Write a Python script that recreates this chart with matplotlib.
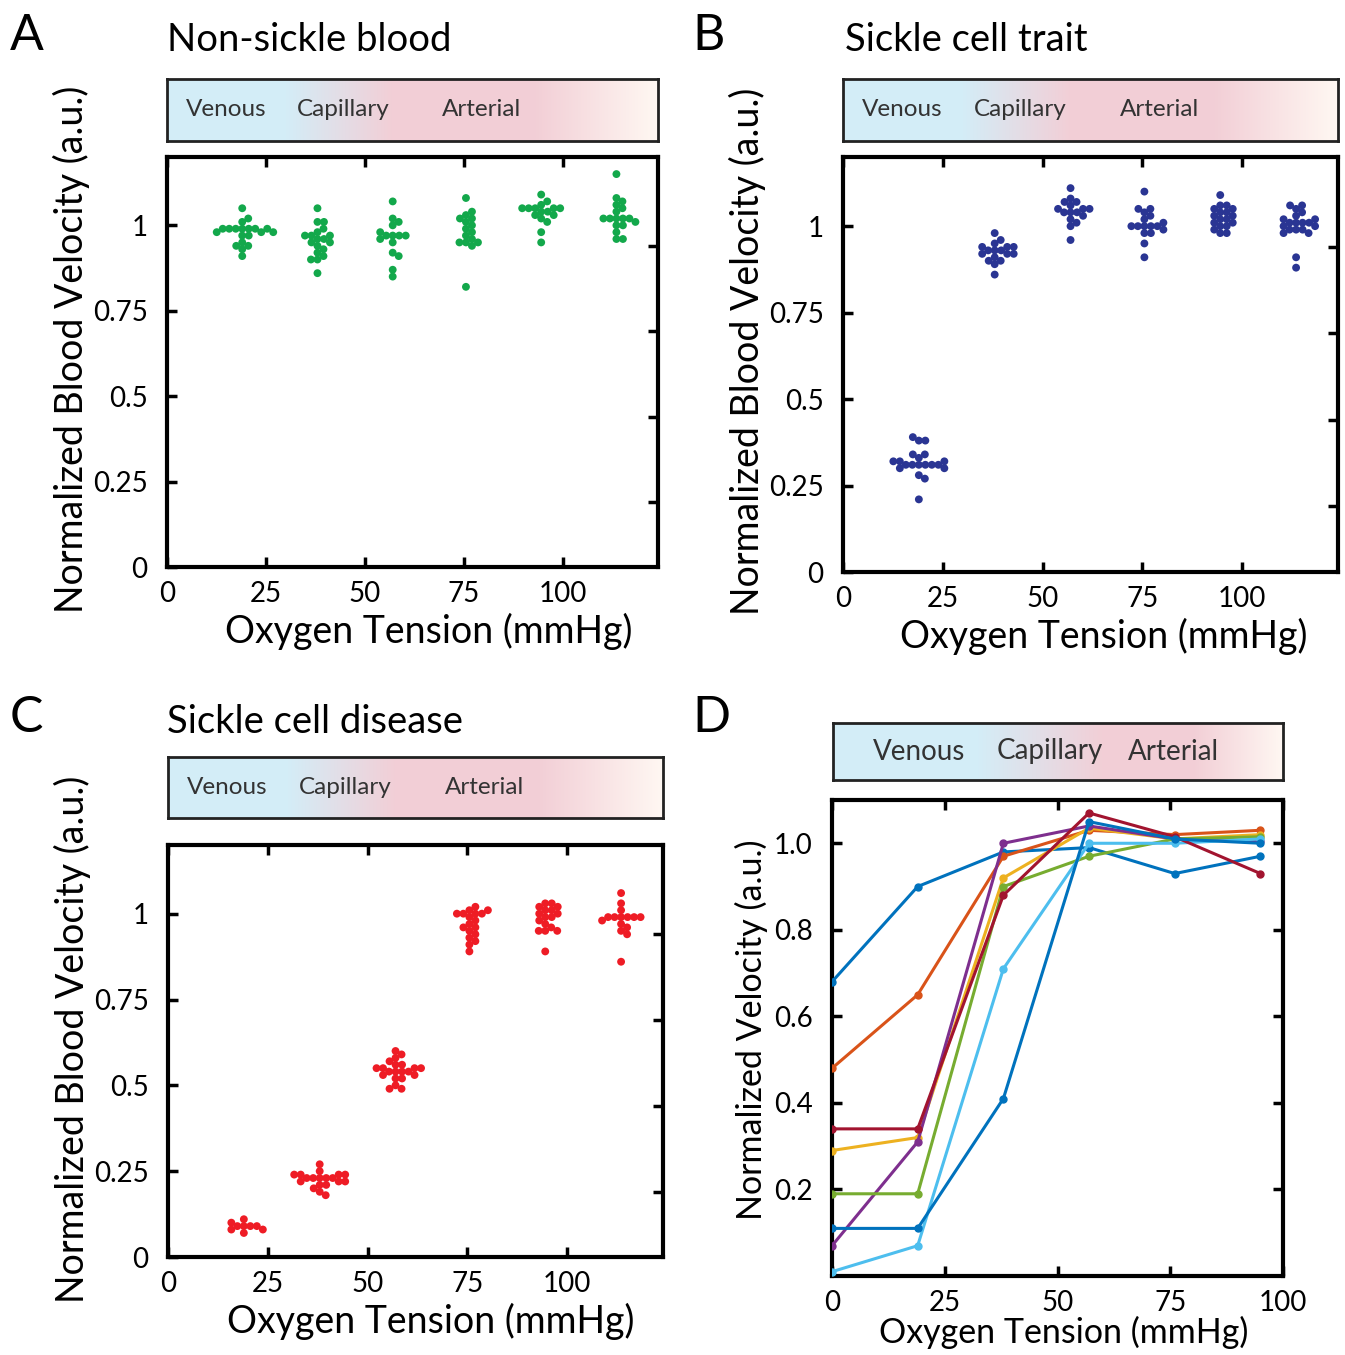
import numpy as np
import matplotlib
matplotlib.use("Agg")
import matplotlib.pyplot as plt

plt.rcParams['font.family'] = ['Lato', 'DejaVu Sans']

# Oxygen tension groups (mmHg) used for the swarm panels
groups = [19, 38, 57, 75.5, 94.5, 113.5]

# A: non-sickle blood
nonsickle = [
    [1.05, 1.02, 1.01, 0.99, 0.99, 0.99, 0.99, 0.99, 0.99, 0.99, 0.98, 0.98, 0.98, 0.97, 0.97, 0.95, 0.94, 0.94, 0.93, 0.91],
    [1.05, 1.01, 1.01, 0.99, 0.98, 0.97, 0.97, 0.97, 0.96, 0.96, 0.95, 0.95, 0.94, 0.93, 0.92, 0.91, 0.90, 0.90, 0.86],
    [1.07, 1.02, 1.01, 1.00, 0.98, 0.97, 0.97, 0.97, 0.97, 0.96, 0.95, 0.92, 0.91, 0.87, 0.85],
    [1.08, 1.04, 1.03, 1.02, 1.02, 1.01, 1.00, 0.99, 0.98, 0.97, 0.96, 0.95, 0.95, 0.95, 0.94, 0.82],
    [1.09, 1.07, 1.06, 1.05, 1.05, 1.05, 1.05, 1.05, 1.04, 1.04, 1.03, 1.03, 1.02, 1.01, 0.98, 0.95],
    [1.15, 1.08, 1.07, 1.06, 1.05, 1.04, 1.02, 1.02, 1.02, 1.02, 1.02, 1.01, 1.00, 1.00, 0.98, 0.96, 0.96],
]

# B: sickle cell trait
trait = [
    [0.39, 0.38, 0.38, 0.34, 0.34, 0.33, 0.32, 0.32, 0.32, 0.31, 0.31, 0.31, 0.31, 0.31, 0.31, 0.30, 0.30, 0.28, 0.27, 0.21],
    [0.98, 0.96, 0.95, 0.94, 0.94, 0.94, 0.93, 0.93, 0.93, 0.92, 0.92, 0.92, 0.91, 0.90, 0.90, 0.89, 0.86],
    [1.11, 1.08, 1.07, 1.07, 1.06, 1.05, 1.05, 1.05, 1.04, 1.04, 1.04, 1.03, 1.02, 1.01, 1.00, 0.96],
    [1.10, 1.05, 1.05, 1.04, 1.03, 1.02, 1.01, 1.00, 1.00, 1.00, 1.00, 1.00, 0.99, 0.98, 0.98, 0.95, 0.91],
    [1.09, 1.06, 1.06, 1.05, 1.05, 1.04, 1.04, 1.03, 1.03, 1.02, 1.02, 1.01, 1.01, 1.00, 1.00, 0.99, 0.98, 0.98],
    [1.06, 1.06, 1.05, 1.04, 1.03, 1.02, 1.02, 1.01, 1.01, 1.01, 1.01, 1.00, 1.00, 0.99, 0.99, 0.99, 0.98, 0.98, 0.91, 0.88],
]

# C: sickle cell disease
disease = [
    [0.11, 0.10, 0.09, 0.09, 0.09, 0.09, 0.08, 0.08, 0.07],
    [0.27, 0.25, 0.24, 0.24, 0.24, 0.24, 0.23, 0.23, 0.23, 0.23, 0.23, 0.22, 0.22, 0.22, 0.21, 0.21, 0.20, 0.19, 0.18],
    [0.60, 0.59, 0.58, 0.57, 0.56, 0.56, 0.55, 0.55, 0.55, 0.55, 0.54, 0.54, 0.54, 0.54, 0.53, 0.53, 0.52, 0.52, 0.50, 0.49, 0.49],
    [1.02, 1.01, 1.01, 1.00, 1.00, 1.00, 1.00, 0.99, 0.98, 0.97, 0.96, 0.96, 0.95, 0.94, 0.93, 0.92, 0.91, 0.89],
    [1.03, 1.03, 1.02, 1.02, 1.01, 1.01, 1.00, 1.00, 0.99, 0.99, 0.98, 0.97, 0.96, 0.95, 0.95, 0.95, 0.89],
    [1.06, 1.03, 1.01, 0.99, 0.99, 0.99, 0.99, 0.99, 0.99, 0.98, 0.97, 0.96, 0.95, 0.94, 0.86],
]

# D: individual patients
d_x = [0, 19, 38, 57, 76, 95]
d_lines = [
    [0.68, 0.90, 0.98, 0.99, 0.93, 0.97],
    [0.48, 0.65, 0.97, 1.03, 1.02, 1.03],
    [0.29, 0.32, 0.92, 1.035, 1.01, 1.02],
    [0.07, 0.31, 1.00, 1.04, 1.01, 1.005],
    [0.19, 0.19, 0.90, 0.97, 1.01, 1.015],
    [0.01, 0.07, 0.71, 1.00, 1.00, 1.01],
    [0.34, 0.34, 0.88, 1.07, 1.015, 0.93],
    [0.11, 0.11, 0.41, 1.05, 1.01, 1.00],
]
d_colors = ['#0072BD', '#D95319', '#EDB120', '#7E2F8E', '#77AC30', '#4DBEEE', '#A2142F', '#0072BD']

W, H = 1345, 1355
fig = plt.figure(figsize=(W / 100, H / 100), dpi=100)


def box(x0, y0, x1, y1):
    # pixel box (top-left origin) -> figure fraction rect
    return [x0 / W, 1 - y1 / H, (x1 - x0) / W, (y1 - y0) / H]


def swarm(ax, x0, ys, diam):
    pts = ax.transData.transform(np.column_stack([np.full(len(ys), x0), ys]))
    order = np.argsort(np.abs(np.array(ys) - np.median(ys)))
    placed = []
    xs = np.zeros(len(ys))
    for i in order:
        px, py = pts[i]
        best = None
        for k in range(400):
            for sgn in ((1,) if k == 0 else (1, -1)):
                cand = px + sgn * k * 0.5
                if all((cand - qx) ** 2 + (py - qy) ** 2 >= diam ** 2 for qx, qy in placed):
                    best = cand
                    break
            if best is not None:
                break
        placed.append((best, py))
        xs[i] = best
    return ax.transData.inverted().transform(np.column_stack([xs, pts[:, 1]]))[:, 0]


def gradient_bar(rect, stops, labels, label_pos, fs):
    bax = fig.add_axes(rect)
    n = 400
    t = np.linspace(0, 1, n)
    pos = [s[0] for s in stops]
    img = np.zeros((1, n, 3))
    for c in range(3):
        img[0, :, c] = np.interp(t, pos, [s[1][c] for s in stops])
    bax.imshow(img, aspect='auto', extent=[0, 1, 0, 1])
    bax.set_xlim(0, 1)
    bax.set_ylim(0, 1)
    bax.set_xticks([])
    bax.set_yticks([])
    for sp in bax.spines.values():
        sp.set_linewidth(2)
        sp.set_color('#222222')
    for lab, xp in zip(labels, label_pos):
        bax.text(xp, 0.5, lab, fontsize=fs, va='center', ha='left', color='#333333')


blue = (0.83, 0.93, 0.97)
pink = (0.95, 0.81, 0.84)
white = (1.0, 0.97, 0.95)
stops_abc = [(0, blue), (0.24, blue), (0.46, pink), (0.75, pink), (1.0, white)]
stops_d = [(0, blue), (0.32, blue), (0.6, pink), (0.8, pink), (1.0, white)]


def style_axes(ax):
    for sp in ax.spines.values():
        sp.set_linewidth(3)
    ax.tick_params(direction='in', length=7, width=2.5, labelsize=20, top=True, right=False)
    ax.tick_params(axis='y', pad=14)
    ax.tick_params(axis='x', pad=10)


def swarm_panel(rect, data, color, title, letter, bar_rect, letter_xy, title_xy, lab_shift):
    ax = fig.add_axes(rect)
    ax.set_xlim(0, 124)
    ax.set_ylim(0, 1.2)
    for gx, ys in zip(groups, data):
        xs = swarm(ax, gx, ys, 6.5)
        ax.scatter(xs, ys, s=32, color=color, edgecolors='none', zorder=3)
    ax.set_xticks([0, 25, 50, 75, 100])
    ax.set_yticks([0, 0.25, 0.5, 0.75, 1])
    ax.set_yticklabels(['0', '0.25', '0.5', '0.75', '1'])
    style_axes(ax)
    ax.set_xlabel('Oxygen Tension (mmHg)', fontsize=27, labelpad=4)
    ax.set_ylabel('Normalized Blood Velocity (a.u.)', fontsize=27, labelpad=2)
    ax.xaxis.label.set_x(lab_shift[0])
    ax.yaxis.label.set_y(lab_shift[1])
    # offset right-hand ticks as in the original figure
    tw = ax.twinx()
    tw.set_ylim(0.06, 1.26)
    tw.set_yticks([0.25, 0.5, 0.75, 1.0])
    tw.set_yticklabels([])
    tw.tick_params(direction='in', length=7, width=2.5)
    for sp in tw.spines.values():
        sp.set_visible(False)
    gradient_bar(bar_rect, stops_abc, ['Venous', 'Capillary', 'Arterial'], [0.039, 0.265, 0.56], 17.5)
    fig.text(title_xy[0] / W, 1 - title_xy[1] / H, title, fontsize=27.5, va='center', ha='left')
    fig.text(letter_xy[0] / W, 1 - letter_xy[1] / H, letter, fontsize=36, va='center', ha='left')
    return ax


swarm_panel(box(167, 157, 658, 567), nonsickle, '#13A84B', 'Non-sickle blood', 'A',
            box(167, 79, 658, 141), (10, 36), (167, 40), (0.533, 0.532))
swarm_panel(box(843, 157, 1338, 572), trait, '#2A3593', 'Sickle cell trait', 'B',
            box(843, 79, 1338, 141), (692, 36), (845, 40), (0.526, 0.531))
swarm_panel(box(168, 845, 663, 1257), disease, '#EE1C25', 'Sickle cell disease', 'C',
            box(168, 757, 663, 818), (10, 718), (167, 722), (0.53, 0.529))

# D
axd = fig.add_axes(box(832, 800, 1283, 1276))
for ys, c in zip(d_lines, d_colors):
    axd.plot(d_x, ys, '-o', color=c, lw=2.2, ms=5, zorder=3)
axd.set_xlim(0, 100)
axd.set_ylim(0, 1.1)
axd.set_xticks([0, 25, 50, 75, 100])
axd.set_yticks([0.2, 0.4, 0.6, 0.8, 1.0])
axd.set_yticklabels(['0.2', '0.4', '0.6', '0.8', '1.0'])
style_axes(axd)
axd.tick_params(right=True)
axd.set_xlabel('Oxygen Tension (mmHg)', fontsize=24.5, labelpad=0)
axd.set_ylabel('Normalized Velocity (a.u.)', fontsize=24.5, labelpad=4)
axd.xaxis.label.set_x(0.513)
axd.yaxis.label.set_y(0.517)
gradient_bar(box(833, 723, 1283, 780), stops_d, ['Venous', 'Capillary', 'Arterial'], [0.089, 0.364, 0.656], 20)
fig.text(692 / W, 1 - 718 / H, 'D', fontsize=36, va='center', ha='left')

fig.savefig('out.png', dpi=100)
